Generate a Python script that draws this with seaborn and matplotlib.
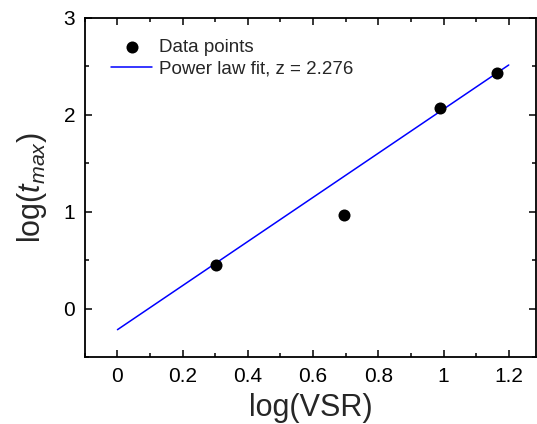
import numpy as np
import pandas as pd
import matplotlib
matplotlib.use("Agg")
import matplotlib.pyplot as plt
import seaborn as sns
from matplotlib.ticker import MultipleLocator, FuncFormatter

# data
log_vsr = [0.301, 0.695, 0.99, 1.163]
log_tmax = [0.446, 0.969, 2.065, 2.426]
fit_slope = 2.276
fit_intercept = -0.218
fit_range = [0.0, 1.2]

sns.set_style("ticks")
plt.rcParams['font.family'] = ['Liberation Sans', 'DejaVu Sans']
plt.rcParams['mathtext.fontset'] = 'custom'
plt.rcParams['mathtext.rm'] = 'Liberation Sans'
plt.rcParams['mathtext.it'] = 'Liberation Sans:italic'

fig = plt.figure(figsize=(5.37, 4.24), dpi=100)
ax = fig.add_axes([0.158, 0.158, 0.841, 0.8])

df = pd.DataFrame({"x": log_vsr, "y": log_tmax})
sns.scatterplot(data=df, x="x", y="y", ax=ax, color="black", s=75,
                edgecolor="black", linewidth=0, label="Data points", zorder=3)

# power law fit line (straight in log-log)
xf = np.array(fit_range)
yf = fit_intercept + fit_slope * xf
sns.lineplot(x=xf, y=yf, ax=ax, color="blue", lw=1.1,
             label=f"Power law fit, z = {fit_slope}", zorder=2)

ax.set_xlim(-0.1, 1.285)
ax.set_ylim(-0.5, 3)
ax.xaxis.set_major_locator(MultipleLocator(0.2))
ax.xaxis.set_minor_locator(MultipleLocator(0.1))
ax.yaxis.set_major_locator(MultipleLocator(1))
ax.yaxis.set_minor_locator(MultipleLocator(0.5))
ax.xaxis.set_major_formatter(FuncFormatter(lambda v, p: f"{v:g}"))
ax.yaxis.set_major_formatter(FuncFormatter(lambda v, p: f"{v:g}"))

ax.tick_params(which="both", direction="in", top=True, right=True,
               labelsize=15, width=1.1, colors="black")
ax.tick_params(which="major", length=5, pad=7)
ax.tick_params(which="minor", length=3)
for s in ax.spines.values():
    s.set_linewidth(1.3)
    s.set_color("black")

ax.set_xlabel("log(VSR)", fontsize=22, labelpad=5)
ax.set_ylabel(r"log($t_{max}$)", fontsize=22, labelpad=10)

ax.legend(loc="upper left", frameon=False, fontsize=13.5,
          bbox_to_anchor=(0.0, 1.015), handlelength=2.2, handletextpad=0.37,
          labelspacing=0.25, borderaxespad=1.0)

fig.savefig("out.png", dpi=100)
